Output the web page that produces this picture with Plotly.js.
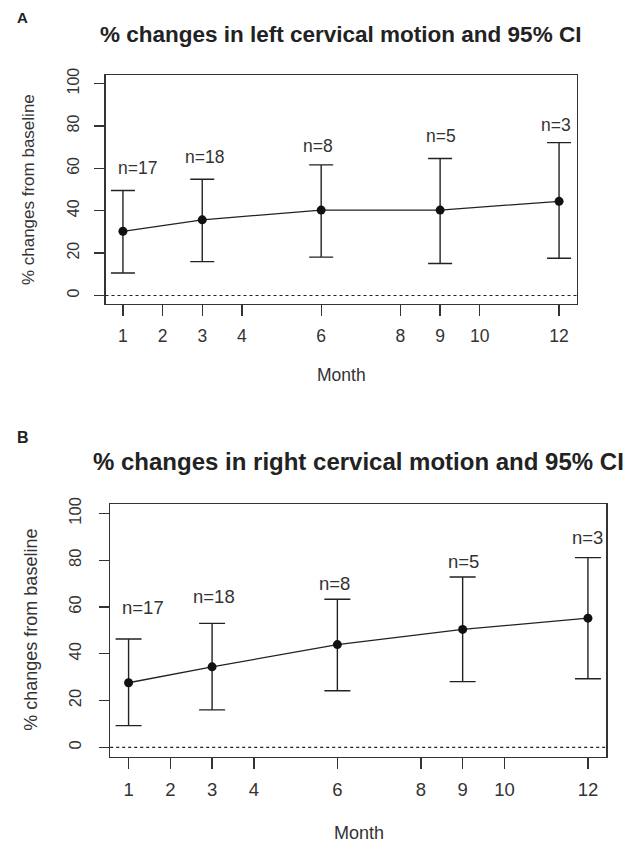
<!DOCTYPE html>
<html>
<head>
<meta charset="utf-8">
<script src="https://cdn.plot.ly/plotly-3.0.1.min.js"></script>
<style>html,body{margin:0;padding:0;background:#fff;}#chart{width:639px;height:845px;}</style>
</head>
<body>
<div id="chart"></div>
<script>
// ---- data ----
const months = [1, 3, 6, 9, 12];
const nLabels = ["n=17", "n=18", "n=8", "n=5", "n=3"];
const xTicks = [1, 2, 3, 4, 6, 8, 9, 10, 12];
const yTicks = [0, 20, 40, 60, 80, 100];

// Panel A: left cervical motion
const leftMean  = [30.3, 35.7, 40.3, 40.3, 44.4];
const leftUpper = [49.5, 54.8, 61.6, 64.6, 72.1];
const leftLower = [10.6, 16.0, 18.1, 15.1, 17.6];
const leftLabelX = [1.36, 3.06, 5.92, 9.02, 11.93];
const leftLabelY = [60.3, 65.1, 70.6, 75.4, 80.5];

// Panel B: right cervical motion
const rightMean  = [27.6, 34.4, 43.9, 50.4, 55.2];
const rightUpper = [46.3, 53.0, 63.3, 72.8, 81.1];
const rightLower = [9.3, 16.0, 24.2, 28.1, 29.3];
const rightLabelX = [1.35, 3.05, 5.93, 9.03, 11.99];
const rightLabelY = [59.7, 64.5, 70.0, 79.5, 89.7];

const titleA = "% changes in left cervical motion and 95% CI";
const titleB = "% changes in right cervical motion and 95% CI";
const xTitle = "Month";
const yTitle = "% changes from baseline";

// ---- build ----
const FONT = "Liberation Sans, Arial, sans-serif";
const TXT = "#333";
const W = 639, H = 845;
const px = v => v / W;
const py = v => 1 - v / H;

function trace(mean, upper, lower, xa, ya, capw) {
  return {
    type: "scatter", mode: "lines+markers",
    x: months, y: mean, xaxis: xa, yaxis: ya,
    line: {color: "#222", width: 1.3},
    marker: {color: "#111", size: 9, symbol: "circle"},
    error_y: {
      type: "data", symmetric: false,
      array: upper.map((u, i) => u - mean[i]),
      arrayminus: lower.map((l, i) => mean[i] - l),
      color: "#222", thickness: 1.4, width: capw
    },
    hoverinfo: "skip", showlegend: false
  };
}

function xaxisCfg(domain, anchor, fs, standoff) {
  return {
    domain: domain, anchor: anchor, range: [0.56, 12.44],
    tickmode: "array", tickvals: xTicks, ticktext: xTicks.map(String),
    ticks: "outside", ticklen: 11, tickwidth: 1.3, tickcolor: "#333",
    showline: true, mirror: true, linecolor: "#333", linewidth: 1.3,
    showgrid: false, zeroline: false,
    tickfont: {family: FONT, size: fs, color: TXT},
    ticklabelstandoff: standoff, fixedrange: true
  };
}
function yaxisCfg(domain, anchor, fs, standoff) {
  return {
    domain: domain, anchor: anchor, range: [-4, 104],
    tickmode: "array", tickvals: yTicks, ticktext: yTicks.map(String),
    tickangle: -90,
    ticks: "outside", ticklen: 10, tickwidth: 1.3, tickcolor: "#333",
    showline: true, mirror: true, linecolor: "#333", linewidth: 1.3,
    showgrid: false, zeroline: false,
    tickfont: {family: FONT, size: fs, color: TXT},
    ticklabelstandoff: standoff, fixedrange: true
  };
}

const data = [
  trace(leftMean, leftUpper, leftLower, "x", "y", 12),
  trace(rightMean, rightUpper, rightLower, "x2", "y2", 13)
];

const ann = [];
function paperText(text, x, y, size, bold, angle) {
  ann.push({
    xref: "paper", yref: "paper", x: px(x), y: py(y),
    xanchor: "center", yanchor: "middle", showarrow: false,
    text: bold ? "<b>" + text + "</b>" : text, textangle: angle || 0,
    font: {family: FONT, size: size, color: bold ? "#222" : TXT}
  });
}
paperText("A", 22.5, 17.5, 15, true);
paperText(titleA, 340, 35, 22.5, true);
paperText(xTitle, 341, 375, 17.5, false);
paperText(yTitle, 28.6, 189.5, 17, false, -90);
paperText("B", 22.5, 437, 16, true);
paperText(titleB, 358, 461.7, 24, true);
paperText(xTitle, 358.5, 833, 18, false);
paperText(yTitle, 30.7, 630, 18, false, -90);

nLabels.forEach((t, i) => {
  ann.push({xref: "x", yref: "y", x: leftLabelX[i], y: leftLabelY[i], text: t,
    showarrow: false, xanchor: "center", yanchor: "middle",
    font: {family: FONT, size: 17.5, color: TXT}});
  ann.push({xref: "x2", yref: "y2", x: rightLabelX[i], y: rightLabelY[i], text: t,
    showarrow: false, xanchor: "center", yanchor: "middle",
    font: {family: FONT, size: 18.5, color: TXT}});
});

const layout = {
  width: W, height: H,
  margin: {l: 0, r: 0, t: 0, b: 0, pad: 0},
  paper_bgcolor: "#fff", plot_bgcolor: "#fff",
  showlegend: false,
  xaxis: xaxisCfg([px(105.5), px(576.5)], "y", 17.5, 5),
  yaxis: yaxisCfg([py(304), py(75)], "x", 16, 9),
  xaxis2: xaxisCfg([px(110.2), px(606.3)], "y2", 18.5, 5),
  yaxis2: yaxisCfg([py(756.7), py(504)], "x2", 16.5, 11),
  annotations: ann,
  shapes: [
    {type: "line", xref: "x domain", yref: "y", x0: 0, x1: 1, y0: 0, y1: 0,
     line: {color: "#222", width: 1.2, dash: "dot"}},
    {type: "line", xref: "x2 domain", yref: "y2", x0: 0, x1: 1, y0: 0, y1: 0,
     line: {color: "#222", width: 1.2, dash: "dot"}}
  ]
};

Plotly.newPlot("chart", data, layout, {displayModeBar: false, staticPlot: true});
</script>
</body>
</html>
